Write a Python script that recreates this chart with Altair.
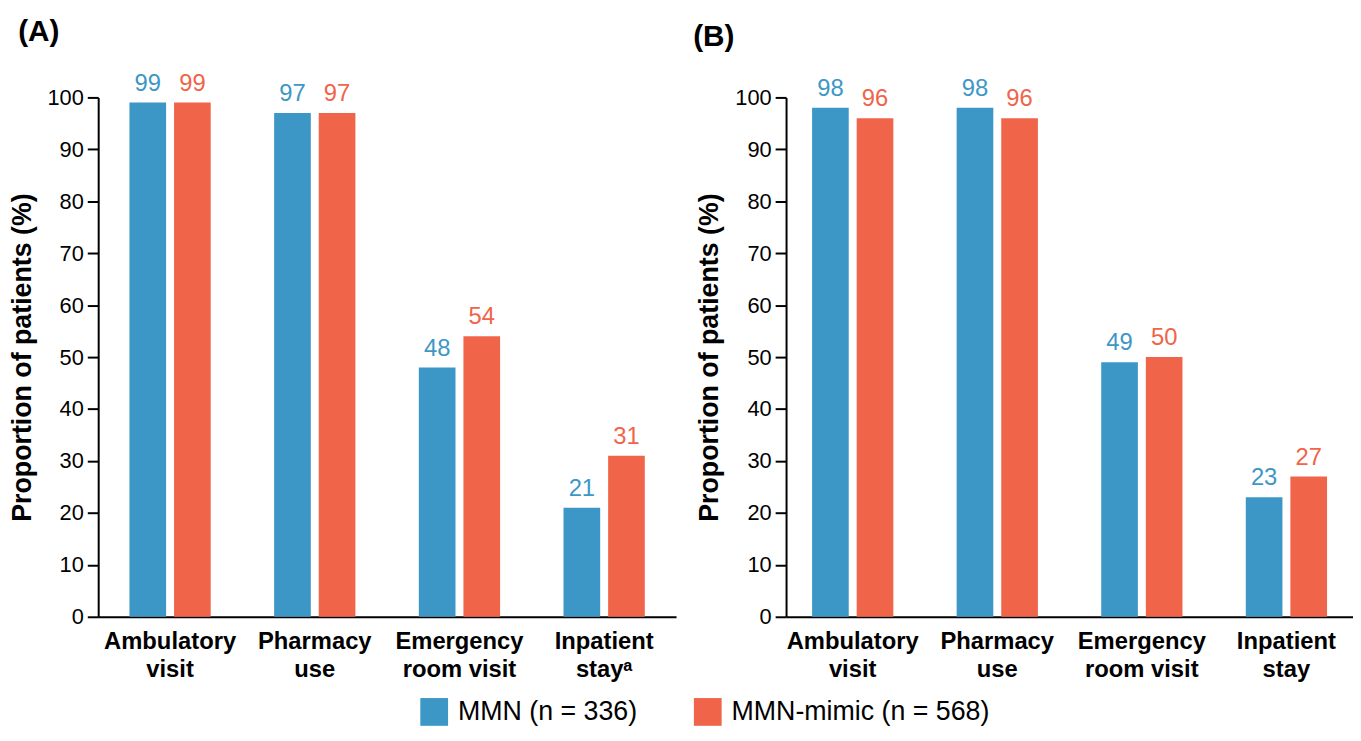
import altair as alt
import pandas as pd

categories_a = ["Ambulatory|visit", "Pharmacy|use", "Emergency|room visit", "Inpatient|stayᵃ"]
categories_b = ["Ambulatory|visit", "Pharmacy|use", "Emergency|room visit", "Inpatient|stay"]
groups = ["MMN (n = 336)", "MMN-mimic (n = 568)"]
mmn_a = [99, 97, 48, 21]
mimic_a = [99, 97, 54, 31]
mmn_b = [98, 98, 49, 23]
mimic_b = [96, 96, 50, 27]
colors = ["#3D97C6", "#F0644A"]
y_ticks = [0, 10, 20, 30, 40, 50, 60, 70, 80, 90, 100]

FONT = "Liberation Sans"


def panel(cats, mmn, mimic, label, show_legend, width, pad_outer, title_dx):
    df = pd.DataFrame({
        "cat": cats * 2,
        "group": [groups[0]] * len(cats) + [groups[1]] * len(cats),
        "value": mmn + mimic,
    })
    if show_legend:
        legend = alt.Legend(
            orient="none", legendX=325, legendY=606, direction="horizontal", title=None,
            symbolType="square", symbolSize=784, symbolStrokeWidth=0, symbolOpacity=1,
            labelFontSize=27, labelFont=FONT, labelColor="black", columnPadding=57,
            labelOffset=10, labelLimit=400, padding=0,
        )
    else:
        legend = None
    base = alt.Chart(df).encode(
        x=alt.X("cat:N", sort=cats,
                scale=alt.Scale(paddingInner=0.4384, paddingOuter=pad_outer),
                axis=alt.Axis(title=None, labelAngle=0, labelExpr="split(datum.label, '|')",
                              labelFont=FONT, labelFontWeight="bold", labelFontSize=24,
                              labelColor="black", ticks=False, domainColor="black",
                              domainWidth=2, labelPadding=13, labelLineHeight=28,
                              labelBaseline="top")),
        xOffset=alt.XOffset("group:N", sort=groups, scale=alt.Scale(paddingInner=0.178)),
        y=alt.Y("value:Q", scale=alt.Scale(domain=[0, 100]),
                axis=alt.Axis(title="Proportion of patients (%)", values=y_ticks,
                              grid=False, tickSize=11, tickWidth=2, tickColor="black",
                              domainColor="black", domainWidth=2, labelFont=FONT,
                              labelFontSize=22, labelColor="black", labelPadding=4,
                              titleFont=FONT, titleFontSize=27, titleFontWeight="bold",
                              titleColor="black", titlePadding=11)),
        color=alt.Color("group:N", sort=groups,
                        scale=alt.Scale(domain=groups, range=colors), legend=legend),
    )
    bars = base.mark_bar()
    text = base.mark_text(dy=-12, baseline="alphabetic", fontSize=24, font=FONT).encode(
        text=alt.Text("value:Q"))
    return alt.layer(bars, text).properties(
        width=width, height=524,
        title=alt.TitleParams(label, anchor="start", frame="bounds", fontSize=30,
                              font=FONT, fontWeight="bold", color="black", offset=25,
                              dx=title_dx),
    )


chart = alt.hconcat(
    panel(categories_a, mmn_a, mimic_a, "(A)", True, 583, 0.216, 10),
    panel(categories_b, mmn_b, mimic_b, "(B)", False, 572, 0.18, -3),
    spacing=17,
).properties(padding={"top": 6, "left": 0, "right": 0, "bottom": 0}).configure_view(stroke=None)

chart.save("out.html", embed_options={"renderer": "svg", "actions": False})
